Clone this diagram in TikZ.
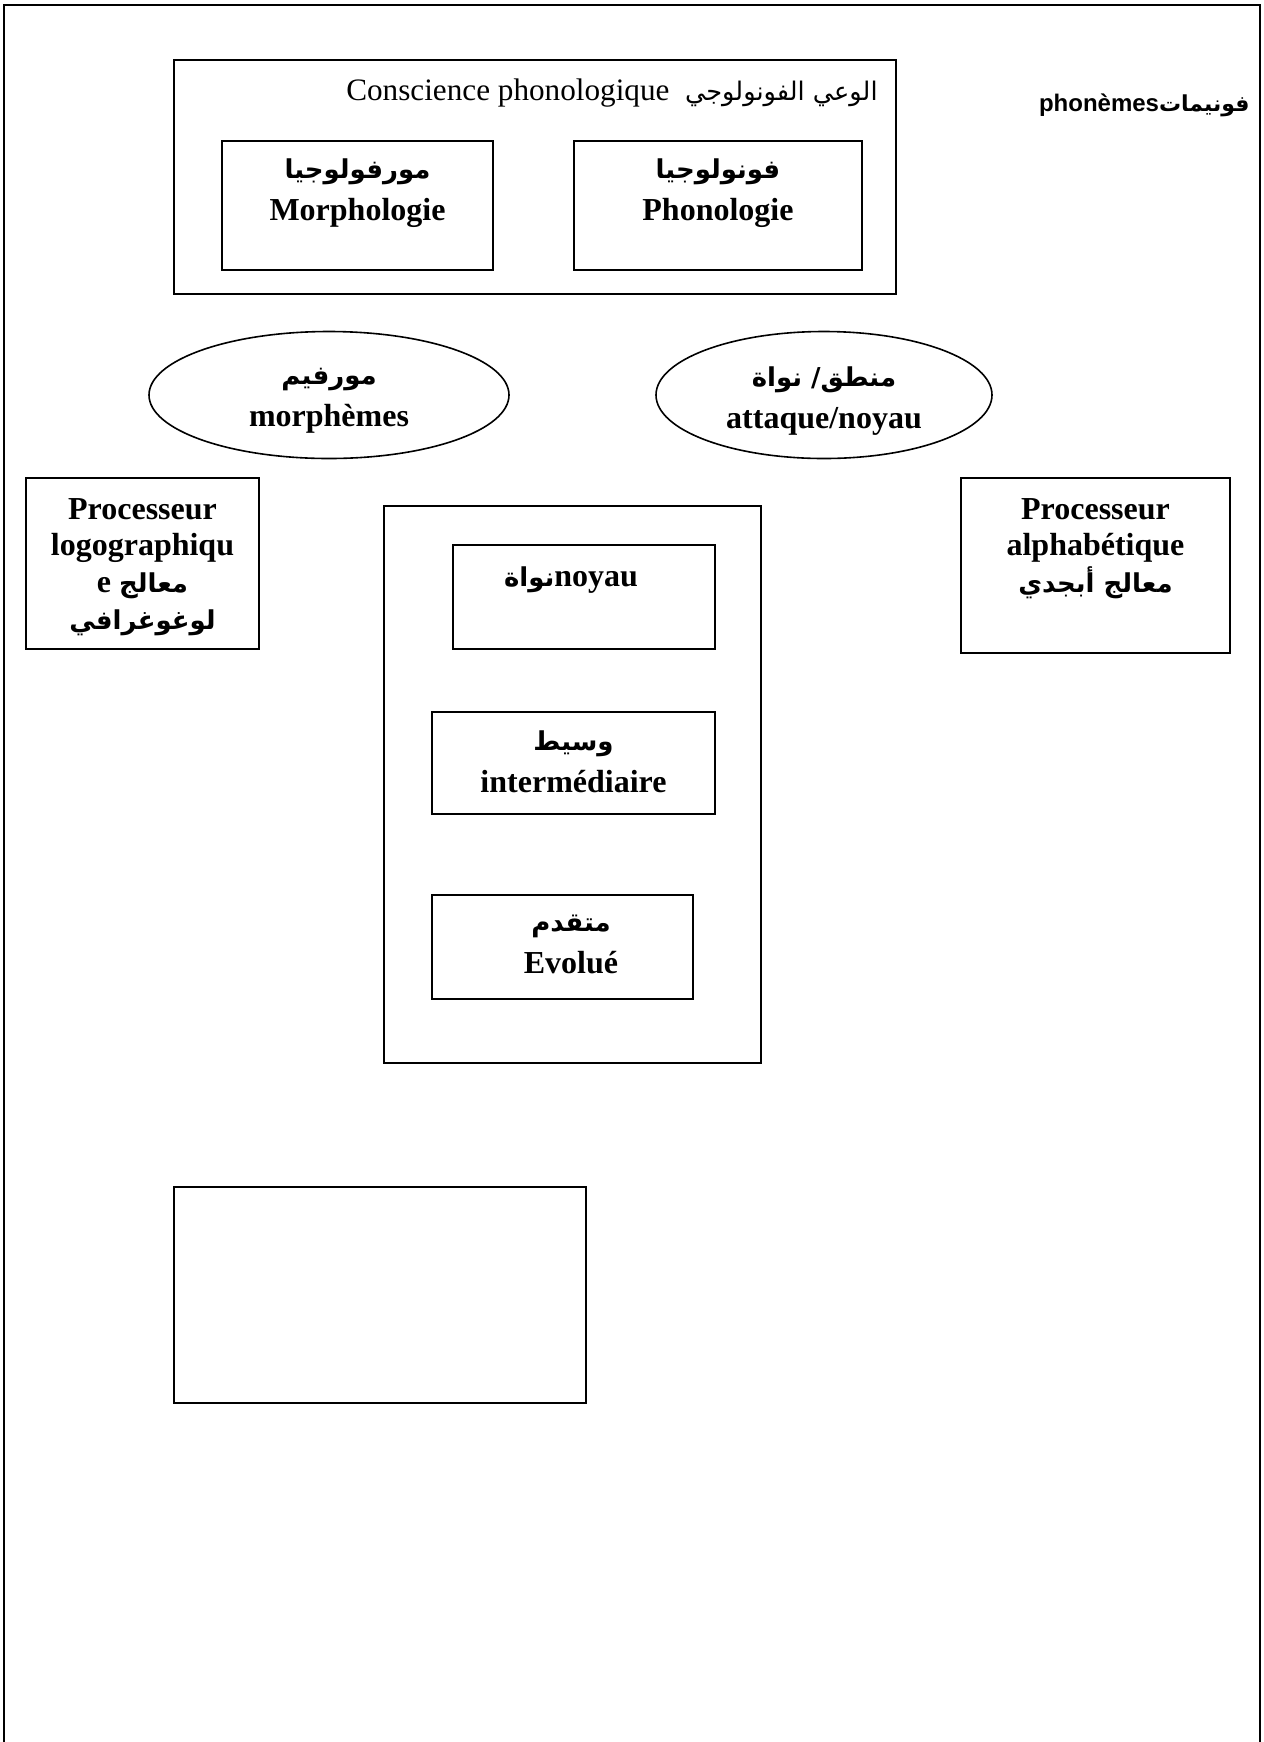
\documentclass[tikz,border=0pt]{standalone}
\usepackage{fontspec}
\usetikzlibrary{shapes.geometric}
\setmainfont{Liberation Serif}
\newfontfamily\arabicfont[Script=Arabic]{DejaVu Sans}
\newfontfamily\headsans{Liberation Sans}
\TeXXeTstate=1
\newcommand{\ar}[1]{{\arabicfont\bfseries\beginR #1\endR}}
\tikzset{
  box/.style={draw, line width=0.8pt, inner sep=0pt},
  oval/.style={draw, ellipse, line width=0.8pt, inner sep=0pt},
  lbl/.style={align=center, inner sep=0pt, font=\fontsize{16}{19}\selectfont\bfseries},
}
\begin{document}
\begin{tikzpicture}[x=0.5pt,y=-0.5pt]
\useasboundingbox (0,0) rectangle (1264,1742);
% page frame, open at the bottom
\coordinate (fbl) at (4,1742);
\coordinate (ftl) at (4,5);
\coordinate (ftr) at (1260,5);
\coordinate (fbr) at (1260,1742);
\draw[line width=1.2pt] (fbl) -- (ftl) -- (ftr) -- (fbr);

% phonological awareness block
\node[box, minimum width=361pt, minimum height=117pt] (aware) at (535,177) {};
\node[anchor=east, inner sep=0pt, font=\fontsize{15.6}{18}\selectfont] (awaretxt) at (878,93)
  {Conscience phonologique\ \ {\arabicfont\fontsize{12.8}{15}\selectfont\beginR الوعي الفونولوجي\endR}};
\node[box, minimum width=135.5pt, minimum height=64.5pt] (morph) at (357.5,205.5) {};
\node[lbl] (morphtxt) at (357.5,193) {{\fontsize{13}{16}\selectfont\ar{مورفولوجيا}}\\[2pt]Morphologie};
\node[box, minimum width=144pt, minimum height=64.5pt] (phon) at (718,205.5) {};
\node[lbl] (phontxt) at (718,193) {{\fontsize{13}{16}\selectfont\ar{فونولوجيا}}\\[2pt]Phonologie};

% phonemes label
\node[anchor=east, inner sep=0pt, font=\headsans\bfseries\fontsize{12}{14}\selectfont] (phonemes) at (1250,105)
  {phonèmes{\arabicfont\fontsize{11}{14}\selectfont\beginR فونيمات\endR}};

% units
\node[oval, minimum width=180pt, minimum height=63.5pt] (morphemes) at (329,395) {};
\node[lbl] (morphemestxt) at (329,401) {{\fontsize{13}{16}\selectfont\ar{مورفيم}}\\[2pt]morphèmes};
\node[oval, minimum width=168pt, minimum height=63.5pt] (onset) at (824,395) {};
\node[lbl] (onsettxt) at (824,401) {{\fontsize{13}{16}\selectfont\ar{منطق/ نواة}}\\[2pt]attaque/noyau};

% processors
\node[box, minimum width=116.5pt, minimum height=85.5pt] (logo) at (142.5,563.5) {};
\node[lbl, anchor=north, font=\fontsize{16}{18.3}\selectfont\bfseries] (logotxt) at (142.5,498)
  {Processeur\\logographiqu\\e {\fontsize{13}{16}\selectfont\ar{معالج}}\\{\fontsize{13}{16}\selectfont\ar{لوغوغرافي}}};
\node[box, minimum width=134.5pt, minimum height=87.5pt] (alpha) at (1095.5,565.5) {};
\node[lbl, anchor=north, font=\fontsize{16}{18.3}\selectfont\bfseries] (alphatxt) at (1095.5,498)
  {Processeur\\alphabétique\\{\fontsize{13}{16}\selectfont\ar{معالج أبجدي}}};

% stages
\node[box, minimum width=188.5pt, minimum height=278.5pt] (stages) at (572.5,784.5) {};
\node[box, minimum width=131pt, minimum height=52pt] (core) at (584,597) {};
\node[lbl] (coretxt) at (571,580) {{\fontsize{13}{16}\selectfont\ar{نواة}}noyau};
\node[box, minimum width=141.5pt, minimum height=51pt] (mid) at (573.5,763) {};
\node[lbl] (midtxt) at (573.5,762) {{\fontsize{13}{16}\selectfont\ar{وسيط}}\\[2pt]intermédiaire};
\node[box, minimum width=130.5pt, minimum height=52pt] (adv) at (562.5,947) {};
\node[lbl] (advtxt) at (571,944) {{\fontsize{13}{16}\selectfont\ar{متقدم}}\\[2pt]Evolué};

% empty box
\node[box, minimum width=206pt, minimum height=108pt] (blank) at (380,1295) {};
\end{tikzpicture}
\end{document}
